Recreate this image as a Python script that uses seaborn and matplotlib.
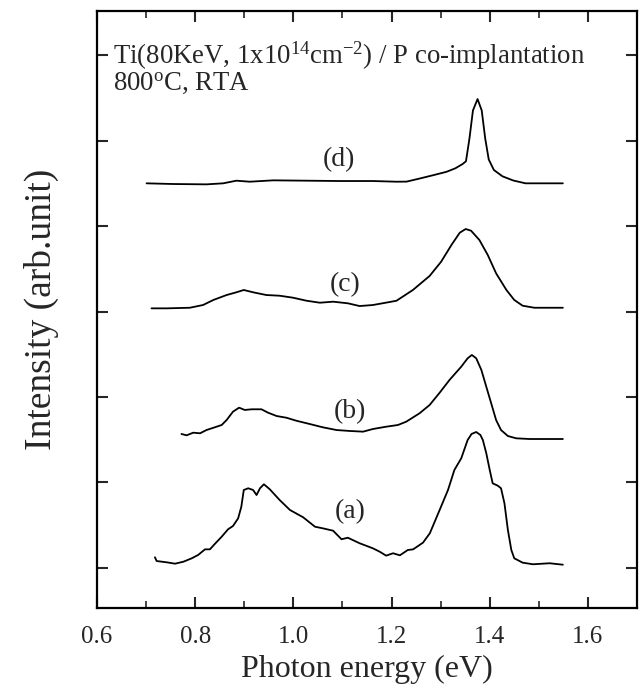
import numpy as np
import pandas as pd
import matplotlib
matplotlib.use("Agg")
import matplotlib.pyplot as plt
import seaborn as sns
from matplotlib.ticker import MultipleLocator

# ---- data ----
a_x = [0.718, 0.7215, 0.742, 0.759, 0.776, 0.793, 0.806, 0.820, 0.830, 0.840, 0.854, 0.867,
       0.877, 0.8875, 0.894, 0.899, 0.908, 0.918, 0.925, 0.932, 0.940, 0.952, 0.972, 0.993,
       1.020, 1.044, 1.060, 1.081, 1.098, 1.111, 1.135, 1.162, 1.176, 1.189, 1.203, 1.217,
       1.233, 1.244, 1.264, 1.278, 1.298, 1.315, 1.328, 1.342, 1.355, 1.363, 1.3725, 1.381,
       1.386, 1.393, 1.400, 1.406, 1.4165, 1.423, 1.430, 1.437, 1.444, 1.450, 1.467, 1.488,
       1.522, 1.549]
a_y = [0.122, 0.078, 0.063, 0.047, 0.070, 0.110, 0.149, 0.215, 0.215, 0.278, 0.363, 0.450,
       0.488, 0.578, 0.714, 0.910, 0.930, 0.910, 0.851, 0.930, 0.977, 0.918, 0.793, 0.676,
       0.590, 0.480, 0.461, 0.433, 0.333, 0.351, 0.286, 0.227, 0.187, 0.141, 0.169, 0.145,
       0.207, 0.215, 0.293, 0.403, 0.676, 0.910, 1.144, 1.281, 1.495, 1.566, 1.589, 1.554,
       1.495, 1.340, 1.144, 0.988, 0.960, 0.930, 0.754, 0.441, 0.207, 0.110, 0.059, 0.040,
       0.052, 0.035]

b_x = [0.772, 0.7825, 0.796, 0.810, 0.823, 0.840, 0.854, 0.864, 0.877, 0.8895, 0.901, 0.915,
       0.935, 0.9485, 0.966, 0.986, 1.006, 1.033, 1.060, 1.088, 1.115, 1.142, 1.162, 1.189,
       1.213, 1.230, 1.257, 1.2775, 1.298, 1.318, 1.342, 1.355, 1.3636, 1.3725, 1.383, 1.393,
       1.403, 1.413, 1.423, 1.437, 1.454, 1.481, 1.549]
b_y = [1.566, 1.550, 1.581, 1.574, 1.612, 1.644, 1.671, 1.729, 1.827, 1.874, 1.847, 1.855,
       1.855, 1.815, 1.776, 1.756, 1.721, 1.683, 1.644, 1.612, 1.601, 1.593, 1.624, 1.651,
       1.671, 1.710, 1.808, 1.905, 2.049, 2.198, 2.354, 2.452, 2.491, 2.452, 2.315, 2.119,
       1.925, 1.729, 1.612, 1.542, 1.515, 1.507, 1.507]

c_x = [0.711, 0.742, 0.789, 0.816, 0.837, 0.864, 0.884, 0.899, 0.918, 0.945, 0.972, 0.999,
       1.027, 1.054, 1.081, 1.111, 1.135, 1.162, 1.193, 1.210, 1.2435, 1.2775, 1.301, 1.322,
       1.339, 1.351, 1.362, 1.379, 1.396, 1.413, 1.434, 1.450, 1.467, 1.491, 1.549]
c_y = [3.037, 3.037, 3.044, 3.076, 3.135, 3.193, 3.225, 3.252, 3.225, 3.193, 3.185, 3.162,
       3.126, 3.103, 3.115, 3.096, 3.064, 3.076, 3.108, 3.126, 3.252, 3.416, 3.583, 3.779,
       3.923, 3.966, 3.946, 3.837, 3.662, 3.447, 3.252, 3.135, 3.068, 3.044, 3.044]

d_x = [0.701, 0.755, 0.823, 0.857, 0.884, 0.911, 0.959, 1.027, 1.094, 1.162, 1.210, 1.2305,
       1.255, 1.284, 1.312, 1.330, 1.3445, 1.3516, 1.3587, 1.3658, 1.3752, 1.3837, 1.3908,
       1.398, 1.4085, 1.426, 1.448, 1.473, 1.549]
d_y = [4.501, 4.493, 4.489, 4.501, 4.532, 4.520, 4.536, 4.532, 4.528, 4.528, 4.520, 4.521,
       4.554, 4.595, 4.636, 4.677, 4.726, 4.759, 5.026, 5.354, 5.488, 5.354, 5.026, 4.780,
       4.657, 4.583, 4.534, 4.501, 4.501]

curve_names = ["(a)", "(b)", "(c)", "(d)"]
label_x = [1.115, 1.115, 1.105, 1.093]
label_y = [0.66, 1.83, 3.31, 4.78]

x_ticks = [0.6, 0.8, 1.0, 1.2, 1.4, 1.6]
x_ticklabels = ["0.6", "0.8", "1.0", "1.2", "1.4", "1.6"]
y_ticks = [0, 1, 2, 3, 4, 5, 6]

title_line1 = r"Ti(80KeV, 1x10$^{14}$cm$^{-2}$) / P co-implantation"
title_line2 = r"800$^{\rm o}$C, RTA"
xlabel = "Photon energy (eV)"
ylabel = "Intensity (arb.unit)"

# ---- build table ----
frames = []
for name, xs, ys in zip(curve_names, [a_x, b_x, c_x, d_x], [a_y, b_y, c_y, d_y]):
    frames.append(pd.DataFrame({"energy": xs, "intensity": ys, "curve": name}))
df = pd.concat(frames, ignore_index=True)

# ---- style ----
sns.set_style("ticks")
plt.rcParams["font.family"] = ["Liberation Serif", "DejaVu Serif"]
plt.rcParams["mathtext.fontset"] = "custom"
plt.rcParams["mathtext.rm"] = "Liberation Serif"
plt.rcParams["mathtext.it"] = "Liberation Serif:italic"
plt.rcParams["mathtext.bf"] = "Liberation Serif:bold"

fig = plt.figure(figsize=(6.39, 6.91), dpi=100)
ax = fig.add_axes([97 / 639, 1 - 608 / 691, 540 / 639, 597 / 691])

sns.lineplot(data=df, x="energy", y="intensity", units="curve", estimator=None,
             sort=False, color="black", linewidth=1.3, ax=ax, legend=False)

for name, lx, ly in zip(curve_names, label_x, label_y):
    ax.text(lx, ly, name, ha="center", va="center", fontsize=20)

ax.text(0.633, 6.0, title_line1, ha="left", va="center", fontsize=19.3)
ax.text(0.633, 5.67, title_line2, ha="left", va="center", fontsize=19.3)

ax.set_xlim(0.6, 1.7)
ax.set_ylim(-0.472, 6.519)
ax.set_xticks(x_ticks)
ax.set_xticklabels(x_ticklabels)
ax.xaxis.set_minor_locator(MultipleLocator(0.1))
ax.set_yticks(y_ticks)
ax.set_yticklabels([])

ax.tick_params(axis="both", which="major", direction="in", length=8, width=1.5,
               top=True, right=True, labelsize=18, pad=13)
ax.tick_params(axis="x", which="minor", direction="in", length=5, width=1.2, top=True)

for s in ax.spines.values():
    s.set_linewidth(1.6)
    s.set_color("black")

ax.set_xlabel(xlabel, fontsize=23, labelpad=5)
ax.set_ylabel(ylabel, fontsize=27, labelpad=14)

fig.savefig("out.png", dpi=100)
